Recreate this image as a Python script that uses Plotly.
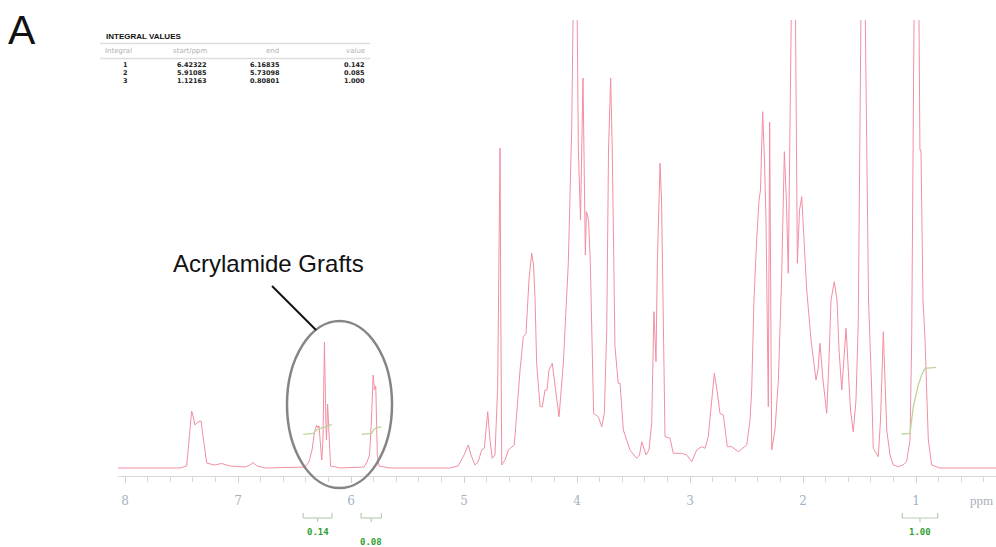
import plotly.graph_objects as go

# ---------------- data ----------------
spec_ppm = [8.062, 7.513, 7.454, 7.434, 7.410, 7.394, 7.381, 7.354, 7.327, 7.305, 7.277, 7.212, 7.144, 7.071,
            6.938, 6.894, 6.867, 6.832, 6.761, 6.407, 6.372, 6.345, 6.323, 6.304, 6.292, 6.283, 6.270, 6.259,
            6.248, 6.235, 6.223, 6.217, 6.207, 6.195, 6.181, 6.097, 5.885, 5.858, 5.836, 5.819, 5.804, 5.792,
            5.781, 5.767, 5.752, 5.655, 5.124, 5.053, 5.000, 4.962, 4.938, 4.903, 4.876, 4.843, 4.820, 4.790,
            4.770, 4.750, 4.726, 4.702, 4.688, 4.681, 4.675, 4.666, 4.637, 4.608, 4.555, 4.533, 4.504, 4.475,
            4.451, 4.425, 4.401, 4.385, 4.372, 4.357, 4.327, 4.307, 4.283, 4.265, 4.248, 4.219, 4.195, 4.159,
            4.121, 4.077, 4.047, 4.027, 4.004, 3.988, 3.969, 3.960, 3.947, 3.926, 3.917, 3.906, 3.897, 3.882,
            3.870, 3.853, 3.812, 3.781, 3.758, 3.737, 3.721, 3.702, 3.688, 3.677, 3.664, 3.635, 3.619, 3.590,
            3.531, 3.472, 3.447, 3.427, 3.389, 3.363, 3.339, 3.319, 3.301, 3.289, 3.265, 3.252, 3.236, 3.221,
            3.177, 3.148, 3.073, 3.029, 2.985, 2.941, 2.897, 2.867, 2.838, 2.814, 2.785, 2.761, 2.735, 2.705,
            2.670, 2.631, 2.573, 2.498, 2.469, 2.454, 2.434, 2.410, 2.389, 2.376, 2.357, 2.341, 2.327, 2.307,
            2.295, 2.277, 2.248, 2.218, 2.188, 2.165, 2.147, 2.130, 2.111, 2.097, 2.071, 2.059, 2.050, 2.031,
            2.011, 1.991, 1.967, 1.929, 1.885, 1.867, 1.850, 1.823, 1.790, 1.770, 1.752, 1.723, 1.699, 1.681,
            1.657, 1.619, 1.602, 1.580, 1.555, 1.531, 1.511, 1.496, 1.482, 1.456, 1.438, 1.420, 1.392, 1.378,
            1.334, 1.314, 1.289, 1.274, 1.259, 1.230, 1.201, 1.157, 1.115, 1.083, 1.053, 1.038, 1.027, 1.013,
            0.978, 0.965, 0.956, 0.938, 0.920, 0.903, 0.891, 0.861, 0.788, 0.292]
spec_int = [0, 0, 2, 28, 57, 50, 43, 46, 47, 28, 5, 3, 4.5, 2,
            1, 3, 5.5, 2, 0, 1, 6, 18, 36, 43, 40, 42, 23, 8,
            28, 126, 48, 28, 64, 28, 2, 0, 1, 6, 13, 48, 93, 78,
            82, 13, 2, 0, 0, 2, 13, 23, 13, 3, 6, 18, 19.7, 56.3,
            28, 9.7, 13, 81.3, 218, 320, 168, 3, 8, 18, 23, 59.7, 98, 131.3,
            134.7, 188, 214.7, 203, 171.3, 104.7, 61.3, 61.3, 78, 78, 98, 104.7, 84.7, 51.3,
            104.7, 204.7, 338, 520, 520, 318, 248, 318, 390, 213, 256.3, 253, 246, 204.7,
            128, 54.7, 51.3, 41.3, 54.7, 138, 318, 390, 318, 218, 121.3, 84.7, 84.7, 38,
            18, 9.7, 13, 26.3, 13, 18, 44.7, 156.3, 106.3, 204.7, 304.7, 268, 138, 31.3,
            29.7, 14.7, 14.7, 13, 6.3, 18, 21.3, 19.7, 31.3, 63, 94.7, 78, 54.7, 53,
            21.3, 21.3, 16.3, 23, 48, 78, 168, 228, 268, 278, 356.3, 308, 245, 61.3,
            346, 18, 38, 88, 194.7, 316.3, 268, 194.7, 368, 520, 520, 318, 204.7, 258,
            271.3, 228, 178, 128, 88, 98, 124.7, 88, 54.7, 108, 168, 186.3, 168, 118,
            78, 139.7, 108, 58, 36.3, 68, 144.7, 318, 520, 520, 318, 168, 78, 19.7,
            11.3, 48, 136.3, 88, 38, 13, 3, 1.3, 3, 6.3, 28, 128, 318, 520,
            520, 318, 318, 168, 128, 68, 28, 3, 0, 0]

# integral table
integral_ids = [1, 2, 3]
integral_start = [6.42322, 5.91085, 1.12163]
integral_end = [6.16835, 5.73098, 0.80801]
integral_value = [0.142, 0.085, 1.000]
integral_labels = ["0.14", "0.08", "1.00"]
integral_label_row = [0, 1, 0]

# integral curves
int1_ppm = [6.422, 6.334, 6.304, 6.265, 6.215, 6.171]
int1_val = [33.7, 34.7, 38, 40, 41.3, 43.7]
int2_ppm = [5.905, 5.817, 5.801, 5.779, 5.732]
int2_val = [33.7, 34.7, 38, 40, 41.3]
int3_ppm = [1.127, 1.053, 1.024, 0.980, 0.950, 0.920, 0.823]
int3_val = [34, 34.7, 61.3, 83, 93, 99.7, 100.7]

x_tick_vals = [8, 7, 6, 5, 4, 3, 2, 1]

# ---------------- figure ----------------
W, H = 996, 547
L, R, T, B = 118, 0, 20, 71
PW, PH = W - L - R, H - T - B


def px(xp):
    return (xp - L) / PW


def py(yp):
    return (H - B - yp) / PH


fig = go.Figure()
fig.add_trace(go.Scatter(x=spec_ppm, y=spec_int, mode="lines",
                         line=dict(color="#f38ea2", width=1), hoverinfo="skip"))
for xs, ys in [(int1_ppm, int1_val), (int2_ppm, int2_val), (int3_ppm, int3_val)]:
    fig.add_trace(go.Scatter(x=xs, y=ys, mode="lines",
                             line=dict(color="#bcd59a", width=1.3), hoverinfo="skip"))

shapes = []
annotations = []

# integral brackets & labels
for s, e, lab, row in zip(integral_start, integral_end, integral_labels, integral_label_row):
    yb = py(518)
    col = "#b9cdb3"
    shapes.append(dict(type="line", xref="x", yref="paper", x0=s, x1=e, y0=yb, y1=yb,
                       line=dict(color=col, width=1.2)))
    for xx in (s, e):
        shapes.append(dict(type="line", xref="x", yref="paper", x0=xx, x1=xx, y0=yb, y1=py(513),
                           line=dict(color=col, width=1.2)))
    mid = (s + e) / 2
    shapes.append(dict(type="line", xref="x", yref="paper", x0=mid, x1=mid, y0=yb, y1=py(522),
                       line=dict(color=col, width=1.2)))
    annotations.append(dict(x=mid, xref="x", y=py(532 + 10 * row), yref="paper", text="<b>%s</b>" % lab,
                            showarrow=False, xanchor="center", yanchor="middle",
                            font=dict(family="DejaVu Sans Mono", size=9, color="#2f9e2f")))

# ellipse + pointer
shapes.append(dict(type="circle", xref="paper", yref="paper", x0=px(287), x1=px(392), y0=py(488), y1=py(321),
                   line=dict(color="#858585", width=2.5)))
shapes.append(dict(type="line", xref="paper", yref="paper", x0=px(272), y0=py(286), x1=px(316), y1=py(330),
                   line=dict(color="#111111", width=2)))
annotations.append(dict(x=px(268), y=py(263), xref="paper", yref="paper", text="Acrylamide Grafts",
                        showarrow=False, xanchor="center", yanchor="middle",
                        font=dict(family="Liberation Sans", size=24, color="#111111")))
annotations.append(dict(x=px(22), y=py(30), xref="paper", yref="paper", text="A",
                        showarrow=False, xanchor="center", yanchor="middle",
                        font=dict(family="Liberation Sans", size=41, color="#111111")))
annotations.append(dict(x=px(981), y=py(500), xref="paper", yref="paper", text="ppm",
                        showarrow=False, xanchor="center", yanchor="middle",
                        font=dict(family="Liberation Serif", size=13, color="#a3afbb")))

# integral table
annotations.append(dict(x=px(104), y=py(36), xref="paper", yref="paper", text="<b>INTEGRAL VALUES</b>",
                        showarrow=False, xanchor="left", yanchor="middle",
                        font=dict(family="Liberation Sans", size=8, color="#111111")))
for y_line in (43.5, 58.5):
    shapes.append(dict(type="line", xref="paper", yref="paper", x0=px(100), x1=px(370),
                       y0=py(y_line), y1=py(y_line), line=dict(color="#dddddd", width=1.3)))
hdr_font = dict(family="DejaVu Sans", size=7, color="#b0b0b0")
annotations.append(dict(x=px(103), y=py(51), xref="paper", yref="paper", text="Integral", showarrow=False,
                        xanchor="left", yanchor="middle", font=hdr_font))
for txt, xr in [("start/ppm", 210), ("end", 281), ("value", 367)]:
    annotations.append(dict(x=px(xr), y=py(51), xref="paper", yref="paper", text=txt, showarrow=False,
                            xanchor="right", yanchor="middle", font=hdr_font))
row_font = dict(family="DejaVu Sans", size=6.5, color="#222222")
for i, (iid, s, e, v) in enumerate(zip(integral_ids, integral_start, integral_end, integral_value)):
    yy = py(65 + 7.8 * i)
    annotations.append(dict(x=px(125.5), y=yy, xref="paper", yref="paper", text="<b>%d</b>" % iid,
                            showarrow=False, xanchor="center", yanchor="middle", font=row_font))
    for txt, xr in [("%.5f" % s, 209), ("%.5f" % e, 282), ("%.3f" % v, 367)]:
        annotations.append(dict(x=px(xr), y=yy, xref="paper", yref="paper", text="<b>%s</b>" % txt,
                                showarrow=False, xanchor="right", yanchor="middle", font=row_font))

fig.update_layout(
    width=W, height=H, margin=dict(l=L, r=R, t=T, b=B),
    paper_bgcolor="white", plot_bgcolor="white", showlegend=False,
    shapes=shapes, annotations=annotations,
    xaxis=dict(range=[8.062, 0.292], showgrid=False, zeroline=False, showline=True,
               linecolor="#d9d9d9", linewidth=1, ticks="outside", tickcolor="#d0d0d0", ticklen=6,
               tickmode="array", tickvals=x_tick_vals, ticktext=[str(v) for v in x_tick_vals],
               ticklabelstandoff=8,
               tickfont=dict(family="DejaVu Serif", size=12, color="#9fb3c6"),
               minor=dict(dtick=0.2, tick0=0, ticks="outside", ticklen=5, tickcolor="#d8d8d8")),
    yaxis=dict(range=[-8, 448], visible=False, showgrid=False, zeroline=False),
)

fig.write_html("out.html")
